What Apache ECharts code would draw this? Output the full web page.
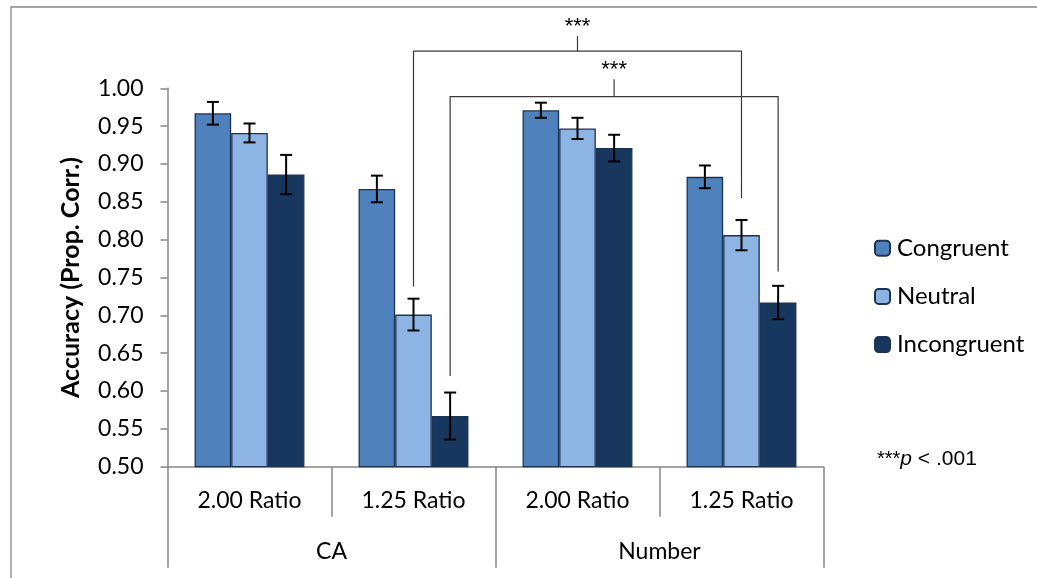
<!DOCTYPE html>
<html>
<head>
<meta charset="utf-8">
<script src="https://cdn.jsdelivr.net/npm/echarts@6/dist/echarts.min.js"></script>
<style>
  html, body { margin: 0; padding: 0; background: #ffffff; }
  #chart { width: 1037px; height: 578px; }
</style>
</head>
<body>
<div id="chart"></div>
<script>
// Ratio conditions (inner axis row) and task groups (outer axis row)
const ratioLabels = ['2.00 Ratio', '1.25 Ratio', '2.00 Ratio', '1.25 Ratio'];
const taskLabels = ['CA', 'Number'];
const conditionNames = ['Congruent', 'Neutral', 'Incongruent'];

// Mean accuracy (proportion correct) per ratio condition
const congruent   = [0.967, 0.867, 0.971, 0.883];
const neutral     = [0.941, 0.701, 0.947, 0.806];
const incongruent = [0.886, 0.567, 0.921, 0.717];

// Standard error for each mean
const congruentErr   = [0.015, 0.0176, 0.010, 0.015];
const neutralErr     = [0.0125, 0.021, 0.014, 0.020];
const incongruentErr = [0.026, 0.031, 0.0176, 0.022];

// Y axis tick values
const yTicks = [0.50, 0.55, 0.60, 0.65, 0.70, 0.75, 0.80, 0.85, 0.90, 0.95, 1.00];

// Significance brackets: [fromCategory, fromCondition, fromEnd, toCategory, toCondition, toEnd, barLevel, stemTop, label]
const sigBrackets = [
  [1, 1, 0.738, 3, 1, 0.855, 1.049, 1.069, '***'],
  [1, 2, 0.620, 3, 2, 0.758, 0.989, 1.012, '***']
];

const colors = ['#4F81BD', '#8EB4E3', '#17375E'];
const borderColor = '#1B3454';
const axisGray = '#868686';
const FONT = 'Lato';
const CAT_GAP = 0.33;

const chart = echarts.init(document.getElementById('chart'));

function barOffset(api, condition) {
  const band = api.size([1, 0])[0];
  const w = band * (1 - CAT_GAP) / 3;
  return (condition - 1) * w;
}

function errorSeries(condition, means, errs) {
  return {
    type: 'custom',
    xAxisIndex: 0,
    yAxisIndex: 0,
    z: 5,
    silent: true,
    data: means.map((m, i) => [i, m - errs[i], m + errs[i]]),
    renderItem: function (params, api) {
      const dx = barOffset(api, condition);
      const lo = api.coord([api.value(0), api.value(1)]);
      const hi = api.coord([api.value(0), api.value(2)]);
      const x = lo[0] + dx;
      const cap = 6;
      const style = { stroke: '#000000', lineWidth: 2, fill: null };
      return {
        type: 'group',
        children: [
          { type: 'line', shape: { x1: x, y1: lo[1], x2: x, y2: hi[1] }, style: style },
          { type: 'line', shape: { x1: x - cap, y1: lo[1], x2: x + cap, y2: lo[1] }, style: style },
          { type: 'line', shape: { x1: x - cap, y1: hi[1], x2: x + cap, y2: hi[1] }, style: style }
        ]
      };
    }
  };
}

function barSeries(k, values) {
  return {
    name: conditionNames[k],
    type: 'bar',
    xAxisIndex: 0,
    yAxisIndex: 0,
    data: values,
    barGap: '0%',
    barCategoryGap: (CAT_GAP * 100) + '%',
    itemStyle: { color: colors[k], borderColor: borderColor, borderWidth: 1.3 },
    emphasis: { disabled: true }
  };
}

const bracketSeries = {
  type: 'custom',
  xAxisIndex: 0,
  yAxisIndex: 0,
  clip: false,
  silent: true,
  z: 6,
  data: sigBrackets.map(b => b.slice(0, 8)),
  renderItem: function (params, api) {
    const b = sigBrackets[params.dataIndex];
    const a0 = api.coord([b[0], b[2]]);
    const a1 = api.coord([b[3], b[5]]);
    const xa = a0[0] + barOffset(api, b[1]);
    const xb = a1[0] + barOffset(api, b[4]);
    const yBar = api.coord([0, b[6]])[1];
    const yStem = api.coord([0, b[7]])[1];
    const xm = (xa + xb) / 2;
    const st = { stroke: '#3a3a3a', lineWidth: 1.2, fill: null };
    return {
      type: 'group',
      children: [
        { type: 'polyline', shape: { points: [[xa, a0[1]], [xa, yBar], [xb, yBar], [xb, a1[1]]] }, style: st },
        { type: 'line', shape: { x1: xm, y1: yBar, x2: xm, y2: yStem }, style: st },
        { type: 'text', x: xm, y: yStem - 9,
          style: { text: b[8], fill: '#000000', font: '22px "Liberation Sans", Arial, sans-serif',
                   align: 'center', verticalAlign: 'middle' } }
      ]
    };
  }
};

chart.setOption({
  animation: false,
  backgroundColor: '#ffffff',
  textStyle: { fontFamily: FONT },
  grid: { left: 167.5, right: 213.5, top: 88.3, bottom: 111.3, containLabel: false },
  legend: {
    orient: 'vertical',
    left: 869,
    top: 231.2,
    itemWidth: 15,
    itemHeight: 15,
    itemGap: 24.2,
    data: conditionNames,
    selectedMode: false,
    textStyle: { fontFamily: FONT, fontSize: 24, lineHeight: 22, color: '#000000', padding: [0, 0, 0, 2] }
  },
  xAxis: [
    {
      type: 'category',
      data: ratioLabels,
      position: 'bottom',
      axisLine: { show: true, lineStyle: { color: axisGray, width: 1.5 } },
      axisTick: { show: true, length: 50, alignWithLabel: false, lineStyle: { color: axisGray, width: 1.5 } },
      axisLabel: { margin: 22, fontFamily: FONT, fontSize: 23, color: '#000000' },
      splitLine: { show: false }
    },
    {
      type: 'category',
      data: taskLabels,
      position: 'bottom',
      axisLine: { show: false },
      axisTick: { show: true, length: 101, alignWithLabel: false, lineStyle: { color: axisGray, width: 1.5 } },
      axisLabel: { margin: 73, fontFamily: FONT, fontSize: 23, color: '#000000' },
      splitLine: { show: false }
    }
  ],
  yAxis: {
    type: 'value',
    min: yTicks[0],
    max: yTicks[yTicks.length - 1],
    interval: 0.05,
    name: 'Accuracy (Prop. Corr.)',
    nameLocation: 'middle',
    nameGap: 84,
    nameTextStyle: { fontFamily: FONT, fontSize: 25, fontWeight: 'bold', color: '#000000' },
    axisLine: { show: true, lineStyle: { color: axisGray, width: 1.5 } },
    axisTick: { show: true, length: 7, inside: false, lineStyle: { color: axisGray, width: 1.5 } },
    axisLabel: { margin: 24, fontFamily: FONT, fontSize: 23, color: '#000000',
                 formatter: v => v.toFixed(2) },
    splitLine: { show: false }
  },
  graphic: [
    { type: 'rect', shape: { x: 11, y: 7, width: 1200, height: 700 }, silent: true,
      style: { fill: null, stroke: axisGray, lineWidth: 1.3 }, z: -10 },
    { type: 'text', left: 877, top: 449, silent: true,
      style: {
        text: '{s|***}{i|p}{n| < .001}',
        rich: {
          s: { fontFamily: '"Liberation Sans", Arial', fontSize: 20, fill: '#000000' },
          i: { fontFamily: '"Liberation Sans", Arial', fontSize: 21, fontStyle: 'italic', fill: '#000000' },
          n: { fontFamily: '"Liberation Sans", Arial', fontSize: 21, fill: '#000000' }
        }
      } }
  ],
  series: [
    barSeries(0, congruent),
    barSeries(1, neutral),
    barSeries(2, incongruent),
    errorSeries(0, congruent, congruentErr),
    errorSeries(1, neutral, neutralErr),
    errorSeries(2, incongruent, incongruentErr),
    bracketSeries
  ]
});
</script>
</body>
</html>
